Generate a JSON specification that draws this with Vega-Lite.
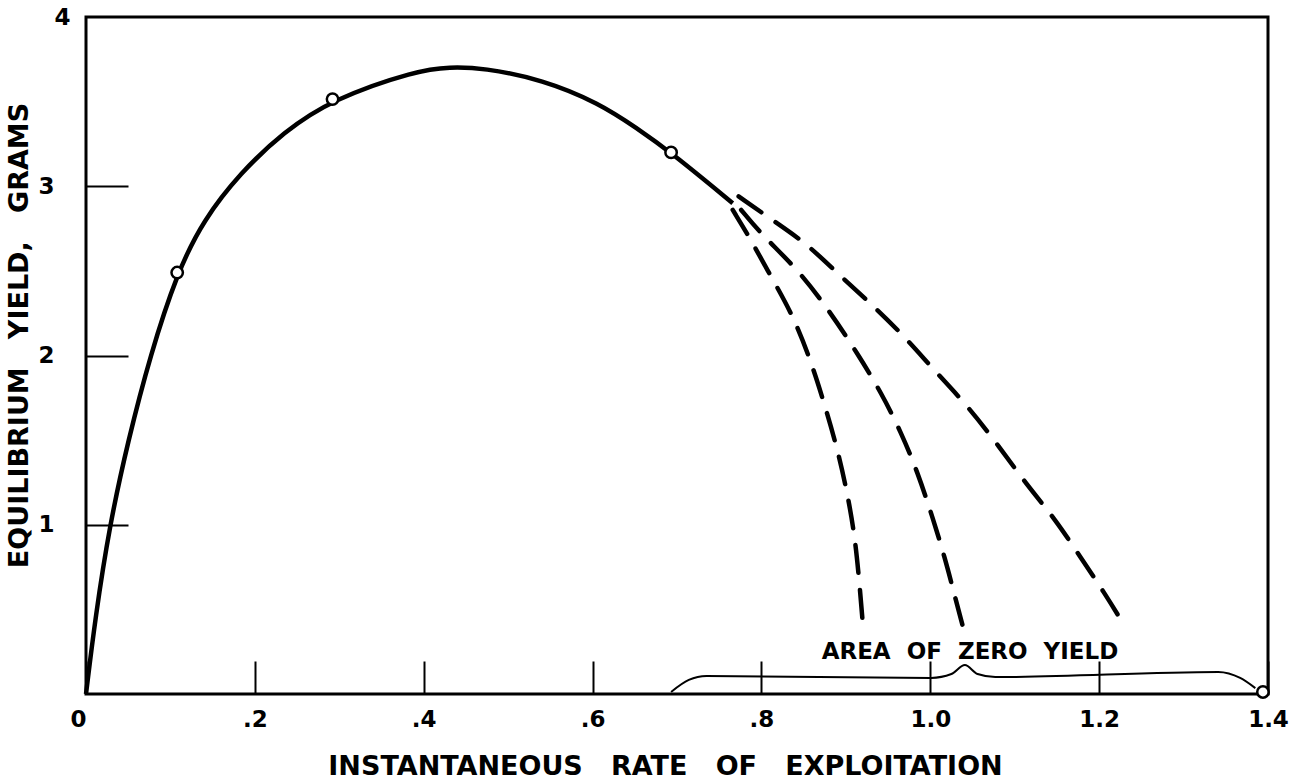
{
  "$schema": "https://vega.github.io/schema/vega-lite/v6.json",
  "width": 1182,
  "height": 677,
  "autosize": "none",
  "padding": {"left": 86, "top": 17, "right": 31, "bottom": 86},
  "background": "white",
  "config": {
    "view": {"stroke": "black", "strokeWidth": 3},
    "font": "DejaVu Sans",
    "axis": {"labelColor": "black", "titleColor": "black", "titleFontWeight": "bold", "labelFontWeight": "bold", "domain": false, "grid": false, "tickColor": "black"}
  },
  "datasets": {
    "main": [
      {"x": 0, "y": 0},
      {"x": 0.011, "y": 0.45},
      {"x": 0.028, "y": 1.0},
      {"x": 0.050, "y": 1.5},
      {"x": 0.076, "y": 2.0},
      {"x": 0.108, "y": 2.49},
      {"x": 0.139, "y": 2.80},
      {"x": 0.183, "y": 3.08},
      {"x": 0.234, "y": 3.32},
      {"x": 0.292, "y": 3.515},
      {"x": 0.392, "y": 3.685},
      {"x": 0.431, "y": 3.705},
      {"x": 0.470, "y": 3.70},
      {"x": 0.541, "y": 3.63},
      {"x": 0.608, "y": 3.49},
      {"x": 0.652, "y": 3.345},
      {"x": 0.693, "y": 3.20},
      {"x": 0.766, "y": 2.90}
    ],
    "dashed": [
      {"curve": "A", "x": 0.766, "y": 2.86},
      {"curve": "A", "x": 0.788, "y": 2.68},
      {"curve": "A", "x": 0.812, "y": 2.46},
      {"curve": "A", "x": 0.836, "y": 2.25},
      {"curve": "A", "x": 0.857, "y": 1.99},
      {"curve": "A", "x": 0.873, "y": 1.74},
      {"curve": "A", "x": 0.890, "y": 1.45},
      {"curve": "A", "x": 0.902, "y": 1.18},
      {"curve": "A", "x": 0.910, "y": 0.95},
      {"curve": "A", "x": 0.915, "y": 0.72},
      {"curve": "A", "x": 0.920, "y": 0.42},
      {"curve": "B", "x": 0.776, "y": 2.86},
      {"curve": "B", "x": 0.801, "y": 2.71},
      {"curve": "B", "x": 0.843, "y": 2.51},
      {"curve": "B", "x": 0.881, "y": 2.26},
      {"curve": "B", "x": 0.914, "y": 2.01},
      {"curve": "B", "x": 0.942, "y": 1.78},
      {"curve": "B", "x": 0.966, "y": 1.54},
      {"curve": "B", "x": 0.985, "y": 1.31},
      {"curve": "B", "x": 1.003, "y": 1.04},
      {"curve": "B", "x": 1.017, "y": 0.81},
      {"curve": "B", "x": 1.029, "y": 0.58},
      {"curve": "B", "x": 1.038, "y": 0.41},
      {"curve": "C", "x": 0.773, "y": 2.94},
      {"curve": "C", "x": 0.813, "y": 2.80},
      {"curve": "C", "x": 0.854, "y": 2.66},
      {"curve": "C", "x": 0.889, "y": 2.49},
      {"curve": "C", "x": 0.931, "y": 2.30},
      {"curve": "C", "x": 0.970, "y": 2.11},
      {"curve": "C", "x": 1.005, "y": 1.91},
      {"curve": "C", "x": 1.043, "y": 1.71},
      {"curve": "C", "x": 1.082, "y": 1.46},
      {"curve": "C", "x": 1.115, "y": 1.23},
      {"curve": "C", "x": 1.147, "y": 1.04},
      {"curve": "C", "x": 1.179, "y": 0.80},
      {"curve": "C", "x": 1.206, "y": 0.60},
      {"curve": "C", "x": 1.228, "y": 0.42}
    ],
    "circles": [
      {"x": 0.108, "y": 2.49},
      {"x": 0.292, "y": 3.515},
      {"x": 0.693, "y": 3.20},
      {"x": 1.394, "y": 0.012}
    ],
    "brace": [
      {"x": 0.693, "y": 0.012},
      {"x": 0.714, "y": 0.083},
      {"x": 0.735, "y": 0.106},
      {"x": 1.001, "y": 0.095},
      {"x": 1.025, "y": 0.118},
      {"x": 1.041, "y": 0.171},
      {"x": 1.056, "y": 0.118},
      {"x": 1.077, "y": 0.100},
      {"x": 1.341, "y": 0.130},
      {"x": 1.367, "y": 0.095},
      {"x": 1.385, "y": 0.035}
    ],
    "note": [
      {"x": 1.047, "y": 0.25, "label": "AREA\u00a0\u00a0OF\u00a0\u00a0ZERO\u00a0\u00a0YIELD"}
    ]
  },
  "layer": [
    {
      "data": {"name": "main"},
      "mark": {"type": "line", "color": "black", "strokeWidth": 4.5, "interpolate": "basis"},
      "encoding": {
        "x": {
          "field": "x", "type": "quantitative",
          "scale": {"domain": [0, 1.4], "nice": false, "zero": false},
          "axis": {
            "values": [0, 0.2, 0.4, 0.6, 0.8, 1.0, 1.2, 1.4],
            "labelExpr": "datum.value == 0 ? '0' : (datum.value < 1 ? replace(format(datum.value, '.1f'), '0.', '.') : format(datum.value, '.1f'))",
            "tickSize": -33,
            "tickWidth": 2,
            "labelFontSize": 23,
            "labelPadding": 47,
            "labelOffset": {"condition": {"test": "datum.value == 0", "value": -8}, "value": 0},
            "labelFlush": false,
            "labelBaseline": "top",
            "title": "INSTANTANEOUS\u00a0\u00a0\u00a0RATE\u00a0\u00a0\u00a0OF\u00a0\u00a0\u00a0EXPLOITATION",
            "titleFontSize": 27,
            "titleX": 579,
            "titleY": 80,
            "titleBaseline": "alphabetic",
            "titleAnchor": "start",
            "titleAlign": "center"
          }
        },
        "y": {
          "field": "y", "type": "quantitative",
          "scale": {"domain": [0, 4], "nice": false, "zero": false},
          "axis": {
            "values": [1, 2, 3, 4],
            "labelExpr": "format(datum.value, 'd')",
            "tickSize": -42,
            "tickWidth": 2,
            "tickOpacity": {"condition": {"test": "datum.value == 4", "value": 0}, "value": 1},
            "labelFontSize": 23,
            "labelPadding": {"condition": {"test": "datum.value == 4", "value": 58}, "value": 74},
            "labelFlush": false,
            "title": "EQUILIBRIUM\u00a0\u00a0\u00a0YIELD,\u00a0\u00a0\u00a0GRAMS",
            "titleFontSize": 27,
            "titleX": -67,
            "titleY": 318,
            "titleAngle": -90,
            "titleAlign": "center",
            "titleBaseline": "middle",
            "titleAnchor": "start"
          }
        }
      }
    },
    {
      "data": {"name": "dashed"},
      "mark": {"type": "line", "color": "black", "strokeWidth": 4.5, "strokeDash": [28, 17], "strokeCap": "round", "interpolate": "basis"},
      "encoding": {
        "x": {"field": "x", "type": "quantitative"},
        "y": {"field": "y", "type": "quantitative"},
        "detail": {"field": "curve", "type": "nominal"}
      }
    },
    {
      "data": {"name": "brace"},
      "mark": {"type": "line", "color": "black", "strokeWidth": 2, "interpolate": "monotone"},
      "encoding": {
        "x": {"field": "x", "type": "quantitative"},
        "y": {"field": "y", "type": "quantitative"}
      }
    },
    {
      "data": {"name": "circles"},
      "mark": {"type": "point", "shape": "circle", "filled": true, "fill": "white", "stroke": "black", "strokeWidth": 2.5, "size": 130, "opacity": 1},
      "encoding": {
        "x": {"field": "x", "type": "quantitative"},
        "y": {"field": "y", "type": "quantitative"}
      }
    },
    {
      "data": {"name": "note"},
      "mark": {"type": "text", "font": "DejaVu Sans", "fontWeight": "bold", "fontSize": 23, "align": "center", "baseline": "middle", "color": "black"},
      "encoding": {
        "x": {"field": "x", "type": "quantitative"},
        "y": {"field": "y", "type": "quantitative"},
        "text": {"field": "label", "type": "nominal"}
      }
    }
  ]
}
